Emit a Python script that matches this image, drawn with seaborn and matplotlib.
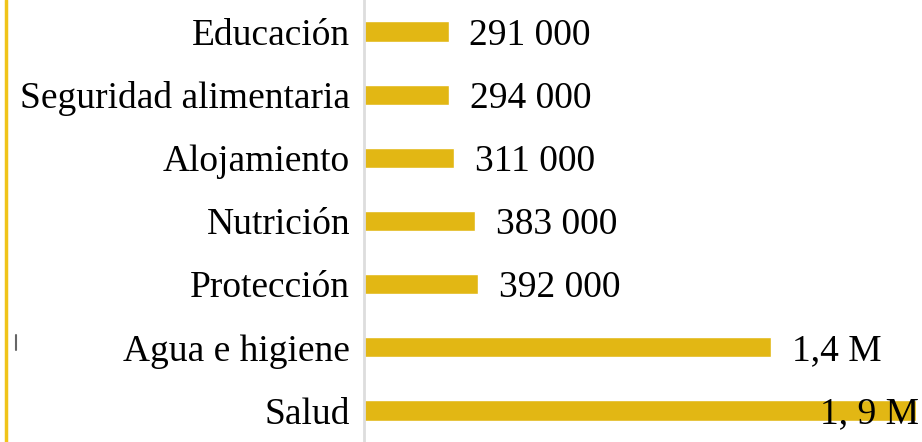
import matplotlib
matplotlib.use("Agg")
import matplotlib.pyplot as plt
import seaborn as sns
import pandas as pd
from matplotlib.lines import Line2D

# data
sectors = ["Educación", "Seguridad alimentaria", "Alojamiento", "Nutrición",
           "Protección", "Agua e higiene", "Salud"]
people = [291000, 294000, 311000, 383000, 392000, 1400000, 1900000]
value_labels = ["291 000", "294 000", "311 000", "383 000", "392 000", "1,4 M", "1, 9 M"]

GOLD = "#E2B714"

sns.set_theme(style="white")
plt.rcParams["font.family"] = ["Liberation Serif", "DejaVu Serif"]

df = pd.DataFrame({"sector": sectors, "people": people})

fig = plt.figure(figsize=(9.22, 4.42), dpi=100)
ax = fig.add_axes([364 / 922, 0.0, 1 - 364 / 922, 1.0])

sns.barplot(data=df, y="sector", x="people", color=GOLD, saturation=1,
            width=0.32, orient="h", ax=ax)

ax.set_xlim(0, 1920000)
ax.set_ylim(6.5, -0.5)
ax.set_xlabel("")
ax.set_ylabel("")
ax.set_xticks([])
ax.tick_params(axis="y", length=0, pad=10, labelsize=27, labelcolor="black")

for side in ["top", "right", "bottom"]:
    ax.spines[side].set_visible(False)
ax.spines["left"].set_color("#dddddd")
ax.spines["left"].set_linewidth(2)

# value labels next to each bar
for i, (v, lab) in enumerate(zip(people, value_labels)):
    if i == len(people) - 1:
        ax.annotate(lab, xy=(1.0, i), xycoords=("axes fraction", "data"),
                    xytext=(-2, 0), textcoords="offset points",
                    ha="right", va="center_baseline", fontsize=27, color="black")
    else:
        ax.annotate(lab, xy=(v, i), xytext=(15, 0), textcoords="offset points",
                    ha="left", va="center_baseline", fontsize=27, color="black")

# thin yellow rule at the left edge and the small grey mark
fig.add_artist(Line2D([6 / 922, 6 / 922], [0, 1], color="#F0C419", lw=2.5))
fig.add_artist(Line2D([16 / 922, 16 / 922], [1 - 335 / 442, 1 - 350 / 442],
                      color="#666666", lw=1.5))

fig.savefig("out.png", dpi=100)
